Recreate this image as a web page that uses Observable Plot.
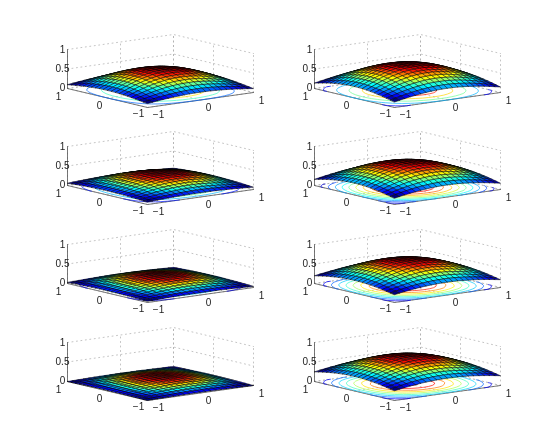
<!DOCTYPE html>
<html><head><meta charset="utf-8">
<style>html,body{margin:0;padding:0;background:#fff}svg{display:block}</style>
<script src="https://cdn.jsdelivr.net/npm/d3@7"></script>
<script src="https://cdn.jsdelivr.net/npm/@observablehq/plot@0.6"></script>
</head><body><script>
// Values. Panel order: left column top to bottom, then right column.
const panelColumn = [0,0,0,0,1,1,1,1];
const panelRow    = [0,1,2,3,0,1,2,3];
const peakHeight  = [0.56,0.36,0.25,0.17, 0.68,0.66,0.67,0.71];
const edgeHeight  = [0.20,0.11,0.06,0.02, 0.30,0.31,0.33,0.38];
const cornerHeight= [0.10,0.06,0.03,0.00, 0.14,0.16,0.20,0.25];
const contourStep = [0.10,0.05,0.05,0.05, 0.10,0.05,0.05,0.05];
const gridX = [-1,-.9,-.8,-.7,-.6,-.5,-.4,-.3,-.2,-.1,0,.1,.2,.3,.4,.5,.6,.7,.8,.9,1];
// cross-section of the dome, edge (0) to centre (1) and back
const profile = [0,.17,.33,.48,.61,.73,.82,.90,.96,.99,1,.99,.96,.90,.82,.73,.61,.48,.33,.17,0];
const zTicks = [0,0.5,1];
const xyTicks = [-1,0,1];
const jetStops = [0,.11,.375,.625,.875,1];
const jetColors = ["#000080","#0000ff","#00ffff","#ffff00","#ff0000","#800000"];

// Layout of the 3D view on the page
const columnShift = [0,247];
const rowShift = [0,97,195,293];
const centre = {x:160,y:90}, xAxisVec = {x:53,y:-7.5}, yAxisVec = {x:-40,y:-9.5}, zUnit = 39;
const project = (p,x,y,z) => ({
  px: centre.x + columnShift[panelColumn[p]] + xAxisVec.x*x + yAxisVec.x*y,
  py: centre.y + rowShift[panelRow[p]] + xAxisVec.y*x + yAxisVec.y*y - zUnit*z
});

const n = gridX.length;
const height = (p,i,j) => {
  const a = profile[i], b = profile[j];
  return cornerHeight[p] + (edgeHeight[p]-cornerHeight[p])*(a+b) + (peakHeight[p]-2*edgeHeight[p]+cornerHeight[p])*a*b;
};

const quads=[], contours=[], solid=[], dotted=[], labels=[];
let id=0;
const addLine=(arr,p,pts)=>{id++;for(const q of pts){const r=project(p,...q);arr.push({...r,id})}};

panelColumn.forEach((_,p)=>{
  const values = new Float64Array(n*n);
  for(let j=0;j<n;j++)for(let i=0;i<n;i++)values[i+j*n]=height(p,i,j);
  const lo=d3.min(values), hi=d3.max(values), norm=v=>(v-lo)/(hi-lo);

  for(const z of zTicks){
    addLine(dotted,p,[[-1,1,z],[1,1,z],[1,-1,z]]);
  }
  for(const t of xyTicks){
    addLine(dotted,p,[[t,1,0],[t,1,1]]);
    addLine(dotted,p,[[1,t,0],[1,t,1]]);
    addLine(dotted,p,[[t,-1,0],[t,1,0]]);
    addLine(dotted,p,[[-1,t,0],[1,t,0]]);
  }
  addLine(solid,p,[[-1,1,0],[-1,1,1]]);
  addLine(solid,p,[[-1,1,0],[-1,-1,0],[1,-1,0]]);

  const gen=d3.contours().size([n,n]);
  const steps=Math.floor(hi/contourStep[p]+1e-9);
  for(let k=1;k<=steps;k++){
    const level=k*contourStep[p];
    if(level<=lo||level>=hi)continue;
    const shape=gen.contour(values,level);
    const onBorder=q=>q[0]<=0||q[0]>=n||q[1]<=0||q[1]>=n;
    const toData=g=>Math.max(-1,Math.min(1,(g-.5)/(n-1)*2-1));
    for(const poly of shape.coordinates)for(const ring of poly){
      let run=[];
      const flush=()=>{if(run.length>1){id++;for(const q of run){const r=project(p,toData(q[0]),toData(q[1]),0);contours.push({...r,id,t:norm(level)})}}run=[]};
      for(let m=0;m<ring.length;m++){
        const q=ring[m];
        if(run.length&&onBorder(q)&&onBorder(run[run.length-1]))flush();
        run.push(q);
      }
      flush();
    }
  }

  for(let i=n-2;i>=0;i--)for(let j=n-2;j>=0;j--){
    id++;
    const t=norm(values[i+j*n]);
    for(const [a,b] of [[i,j],[i+1,j],[i+1,j+1],[i,j+1]]){
      const r=project(p,gridX[a],gridX[b],values[a+b*n]);
      quads.push({...r,id,t});
    }
  }

  for(const z of zTicks){
    const r=project(p,-1,1,z);
    labels.push({px:r.px-5,py:r.py-(z===0?1:0),text:String(z),anchor:"end"});
  }
  const fmt=v=>v<0?"\u2212"+(-v):String(v);
  const yOff={"-1":[-9,6.5],"0":[-8,7.5],"1":[-9,8]};
  const xOff={"-1":[11,7],"0":[8,7.5],"1":[8,8]};
  for(const t of xyTicks){
    const a=project(p,-1,t,0);
    labels.push({px:a.px+yOff[t][0],py:a.py+yOff[t][1],text:fmt(t),anchor:"middle"});
    const b=project(p,t,-1,0);
    labels.push({px:b.px+xOff[t][0],py:b.py+xOff[t][1],text:fmt(t),anchor:"middle"});
  }
});

const chart = Plot.plot({
  width:550,height:448,margin:0,
  style:{background:"#fff",filter:"blur(0.35px)"},
  x:{domain:[0,550],range:[0,550],axis:null},
  y:{domain:[0,448],range:[0,448],axis:null},
  color:{type:"linear",domain:jetStops,range:jetColors,interpolate:"rgb",clamp:true},
  marks:[
    Plot.line(dotted,{x:"px",y:"py",z:"id",stroke:"#aaa",strokeWidth:0.7,strokeDasharray:"1,3.5"}),
    Plot.line(solid,{x:"px",y:"py",z:"id",stroke:"#555",strokeWidth:0.8}),
    Plot.line(contours,{x:"px",y:"py",z:"id",stroke:d=>d.t,strokeWidth:0.7}),
    Plot.line(quads,{x:"px",y:"py",z:"id",fill:d=>d.t,stroke:"#000",strokeWidth:0.5,curve:"linear-closed"}),
    Plot.text(labels,{x:"px",y:"py",text:"text",textAnchor:"anchor",fontFamily:"Liberation Sans",fontSize:10,fill:"#222"})
  ]
});
document.body.appendChild(chart);
</script></body></html>
